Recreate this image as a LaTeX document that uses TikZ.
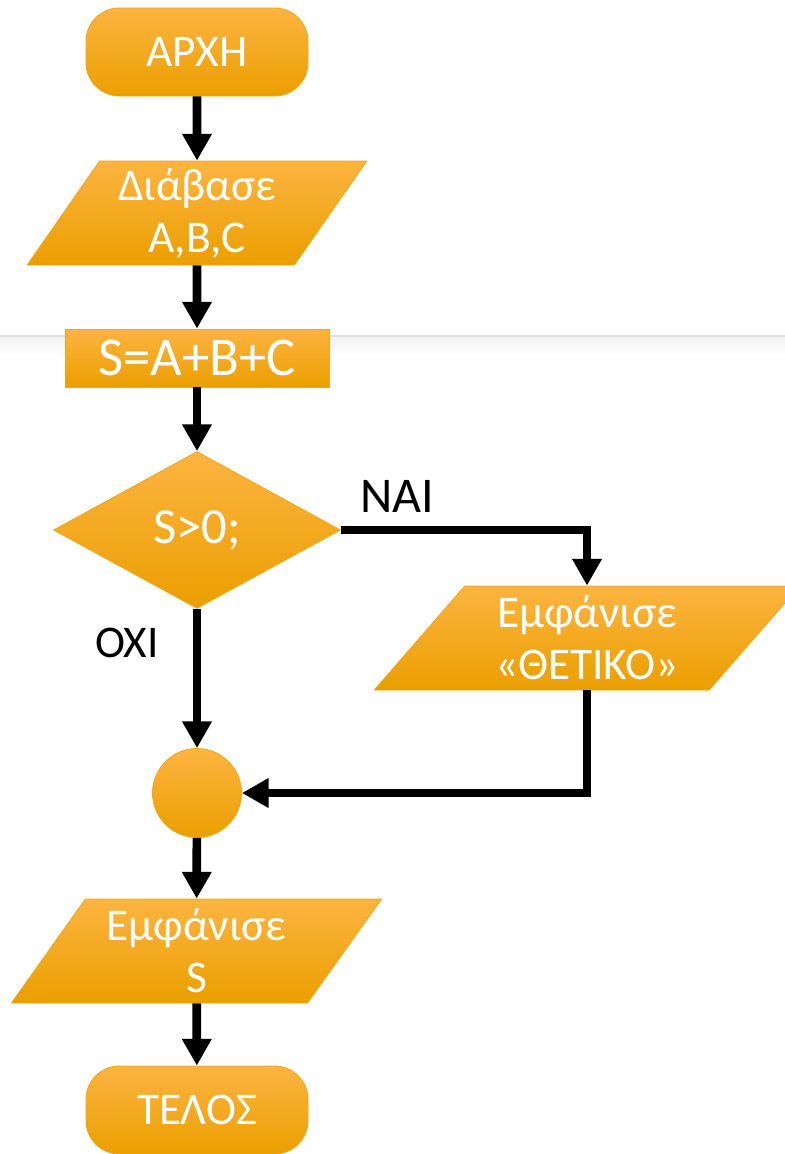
\documentclass[tikz,border=0pt]{standalone}
\usepackage{fontspec}
\setmainfont{Carlito}
\usetikzlibrary{shapes.geometric,arrows.meta}
\definecolor{ogTop}{HTML}{FDB441}
\definecolor{ogMid}{HTML}{FBAA00}
\definecolor{ogBot}{HTML}{EA9F00}
\definecolor{ogEdge}{HTML}{F3A514}
\tikzset{
  flow/.style={top color=ogTop, middle color=ogMid, bottom color=ogBot,
    draw=ogEdge, line width=0.6pt, text=white, inner sep=0pt,
    font=\fontsize{34}{39}\selectfont, align=center},
  terminal/.style={flow, rectangle, rounded corners=25pt,
    minimum width=166.5pt, minimum height=66pt},
  iobox/.style={flow, trapezium, trapezium stretches=true, minimum height=78pt},
  procbox/.style={flow, rectangle, minimum width=198pt, minimum height=43.5pt,
    font=\fontsize{41}{46}\selectfont},
  decision/.style={flow, diamond, minimum width=215.25pt, minimum height=117.75pt,
    font=\fontsize{38}{42}\selectfont},
  joinpt/.style={flow, circle, minimum size=66.75pt},
  flowline/.style={line width=6.5pt, -{Triangle[width=21pt,length=20pt]}},
  answer/.style={font=\fontsize{34}{39}\selectfont, text=black, inner sep=0pt},
}
\begin{document}
\begin{tikzpicture}[x=0.75pt, y=-0.75pt]
\useasboundingbox (0,0) rectangle (785,1154);

% faint page separator behind the chart
\shade[top color=black!5, bottom color=white] (0,337) rectangle (785,356);
\draw[black!12, line width=0.8pt] (0,336) -- (785,336);

% blocks
\node[terminal] (start) at (197,52) {ΑΡΧΗ};
\node[iobox, trapezium left angle=56.8, trapezium right angle=123.2,
      minimum width=255pt] (read) at (197,213) {Διάβασε\\A,B,C};
\node[procbox] (calc) at (197,358) {S=A+B+C};
\node[decision] (test) at (197,530) {S>0;};
\node[iobox, trapezium left angle=51.1, trapezium right angle=128.9,
      minimum width=319.5pt] (pos) at (587,638) {Εμφάνισε\\«ΘΕΤΙΚΟ»};
\node[joinpt] (merge) at (197,793) {};
\node[iobox, trapezium left angle=54.6, trapezium right angle=125.4,
      minimum width=278.25pt] (show) at (196.5,951) {Εμφάνισε\\S};
\node[terminal] (stop) at (197,1110) {ΤΕΛΟΣ};

% branch labels
\node[answer, font=\fontsize{37.5}{42}\selectfont] (yes) at (397,496) {ΝΑΙ};
\node[answer] (no) at (127,643) {ΟΧΙ};

% connectors
\draw[flowline] (start) -- (read);
\draw[flowline] (read) -- (calc);
\draw[flowline] (calc) -- (test);
\draw[flowline] (test.east) -| (pos.north);
\draw[flowline] (test.south) -- (merge.north);
\draw[flowline] (pos.south) |- (merge.east);
\draw[flowline] (merge) -- (show);
\draw[flowline] (show) -- (stop);
\end{tikzpicture}
\end{document}
